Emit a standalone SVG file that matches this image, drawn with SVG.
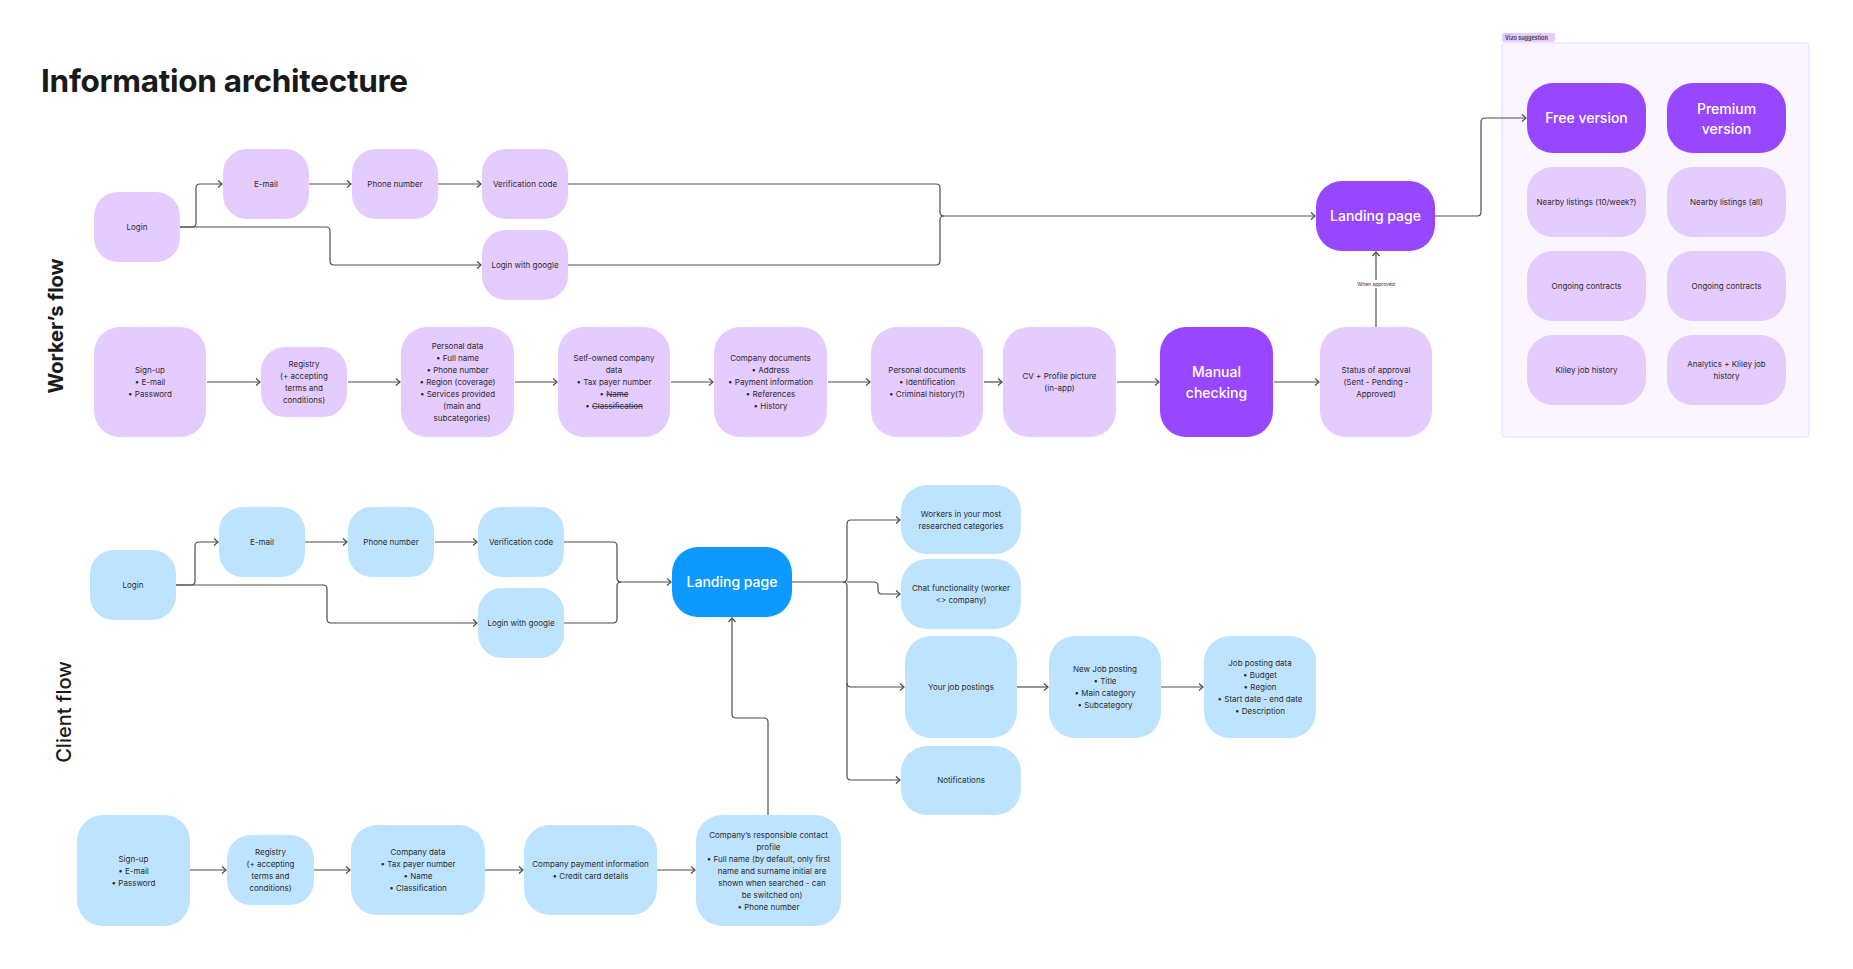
<svg xmlns="http://www.w3.org/2000/svg" width="1853" height="969" viewBox="0 0 1853 969">
<defs>
<marker id="arr" markerUnits="userSpaceOnUse" markerWidth="10" markerHeight="10" viewBox="0 0 10 10" refX="7" refY="5" orient="auto">
<path d="M3,1.5 L7,5 L3,8.5" fill="none" stroke="#4d4d4d" stroke-width="1.2"/>
</marker>
<style>
.wp{fill:#E4CCFF}
.wd{fill:#9747FF}
.cb{fill:#BDE3FF}
.cd{fill:#0D99FF}
text{font-family:Inter,"Liberation Sans",sans-serif}
.t{font-size:8px;fill:#2b2b2b;text-anchor:middle}
.tb{font-size:14px;fill:#ffffff;text-anchor:middle;font-weight:500}
.c{fill:none;stroke:#4d4d4d;stroke-width:1.2}
.a{marker-end:url(#arr)}
.st{text-decoration:line-through}
</style>
</defs>
<rect x="0" y="0" width="1853" height="969" fill="#ffffff"/>

<text x="41" y="92" font-size="31.5" font-weight="700" fill="#1a1a1a" textLength="367">Information architecture</text>
<text transform="translate(63,326) rotate(-90)" font-size="20" font-weight="700" fill="#1a1a1a" text-anchor="middle">Worker’s flow</text>
<text transform="translate(71,712) rotate(-90)" font-size="20" font-weight="500" fill="#1a1a1a" text-anchor="middle">Client flow</text>

<g id="vizo-panel">
<rect x="1502" y="43" width="307" height="394" rx="3" fill="#FAF5FF" stroke="#EBDAFD" stroke-width="1"/>
<rect x="1502" y="33" width="53" height="9" rx="2" fill="#E4CCFF"/>
<text x="1505" y="40" font-size="5.5" font-weight="600" fill="#333">Vizo suggestion</text>
</g>

<g id="connectors">
<path class="c a" d="M180,227 H192 Q196,227 196,223 V188 Q196,184 200,184 H222"/>
<path class="c a" d="M180,227 H326 Q330,227 330,231 V261 Q330,265 334,265 H481"/>
<path class="c a" d="M309,184 H351"/>
<path class="c a" d="M438,184 H481"/>
<path class="c a" d="M568,184 H936 Q940,184 940,188 V212 Q940,216 944,216 H1315"/>
<path class="c" d="M568,265 H936 Q940,265 940,261 V220 Q940,216 944,216"/>
<path class="c a" d="M1435,216 H1477 Q1481,216 1481,212 V122 Q1481,118 1485,118 H1526"/>
<path class="c a" d="M1376,327 V252"/>
<path class="c a" d="M207,382 H260"/>
<path class="c a" d="M348,382 H400"/>
<path class="c a" d="M515,382 H557"/>
<path class="c a" d="M671,382 H713"/>
<path class="c a" d="M828,382 H870"/>
<path class="c a" d="M984,382 H1002"/>
<path class="c a" d="M1117,382 H1159"/>
<path class="c a" d="M1274,382 H1319"/>
<rect x="1358" y="280" width="36" height="8" fill="#ffffff"/>
<text x="1376" y="286" font-size="5" fill="#333" text-anchor="middle">When approved</text>

<path class="c a" d="M176,585 H191 Q195,585 195,581 V546 Q195,542 199,542 H218"/>
<path class="c a" d="M176,585 H323 Q327,585 327,589 V619 Q327,623 331,623 H477"/>
<path class="c a" d="M305,542 H347"/>
<path class="c a" d="M435,542 H477"/>
<path class="c a" d="M564,542 H613 Q617,542 617,546 V578 Q617,582 621,582 H671"/>
<path class="c" d="M564,623 H613 Q617,623 617,619 V586 Q617,582 621,582"/>
<path class="c a" d="M792,582 H843 Q847,582 847,578 V524 Q847,520 851,520 H900"/>
<path class="c a" d="M847,582 H874 Q878,582 878,586 V590 Q878,594 882,594 H900"/>
<path class="c a" d="M843,582 Q847,582 847,586 V683 Q847,687 851,687 H904"/>
<path class="c a" d="M847,683 V776 Q847,780 851,780 H900"/>
<path class="c a" d="M1017,687 H1048"/>
<path class="c a" d="M1161,687 H1203"/>
<path class="c a" d="M190,870 H226"/>
<path class="c a" d="M314,870 H350"/>
<path class="c a" d="M485,870 H523"/>
<path class="c a" d="M657,870 H695"/>
<path class="c a" d="M768,815 V722 Q768,718 764,718 H736 Q732,718 732,714 V618"/>
</g>

<!-- Worker flow row 1 -->
<g id="w-login"><rect class="wp" x="94" y="192" width="86" height="70" rx="24"/><text class="t" x="137" y="230">Login</text></g>
<g id="w-email"><rect class="wp" x="223" y="149" width="86" height="70" rx="24"/><text class="t" x="266" y="187">E-mail</text></g>
<g id="w-phone"><rect class="wp" x="352" y="149" width="86" height="70" rx="24"/><text class="t" x="395" y="187">Phone number</text></g>
<g id="w-verif"><rect class="wp" x="482" y="149" width="86" height="70" rx="24"/><text class="t" x="525" y="187">Verification code</text></g>
<g id="w-google"><rect class="wp" x="482" y="230" width="86" height="70" rx="24"/><text class="t" x="525" y="268">Login with google</text></g>
<g id="w-landing"><rect class="wd" x="1316" y="181" width="119" height="70" rx="26"/><text class="tb" x="1375.5" y="221">Landing page</text></g>

<!-- Worker flow row 2 -->
<g id="w-signup"><rect class="wp" x="94" y="327" width="112" height="110" rx="26"/>
<text class="t"><tspan x="150" y="373">Sign-up</tspan><tspan x="150" y="385">• E-mail</tspan><tspan x="150" y="397">• Password</tspan></text></g>
<g id="w-registry"><rect class="wp" x="261" y="347" width="86" height="70" rx="24"/>
<text class="t"><tspan x="304" y="367">Registry</tspan><tspan x="304" y="379">(+ accepting</tspan><tspan x="304" y="391">terms and</tspan><tspan x="304" y="403">conditions)</tspan></text></g>
<g id="w-personal"><rect class="wp" x="401" y="327" width="113" height="110" rx="26"/>
<text class="t"><tspan x="457.5" y="349">Personal data</tspan><tspan x="457.5" y="361">• Full name</tspan><tspan x="457.5" y="373">• Phone number</tspan><tspan x="457.5" y="385">• Region (coverage)</tspan><tspan x="457.5" y="397">• Services provided</tspan><tspan x="462" y="409">(main and</tspan><tspan x="462" y="421">subcategories)</tspan></text></g>
<g id="w-selfowned"><rect class="wp" x="558" y="327" width="112" height="110" rx="26"/>
<text class="t"><tspan x="614" y="361">Self-owned company</tspan><tspan x="614" y="373">data</tspan><tspan x="614" y="385">• Tax payer number</tspan><tspan x="614" y="397">• <tspan class="st">Name</tspan></tspan><tspan x="614" y="409">• <tspan class="st">Classification</tspan></tspan></text></g>
<g id="w-companydocs"><rect class="wp" x="714" y="327" width="113" height="110" rx="26"/>
<text class="t"><tspan x="770.5" y="361">Company documents</tspan><tspan x="770.5" y="373">• Address</tspan><tspan x="770.5" y="385">• Payment information</tspan><tspan x="770.5" y="397">• References</tspan><tspan x="770.5" y="409">• History</tspan></text></g>
<g id="w-personaldocs"><rect class="wp" x="871" y="327" width="112" height="110" rx="26"/>
<text class="t"><tspan x="927" y="373">Personal documents</tspan><tspan x="927" y="385">• Identification</tspan><tspan x="927" y="397">• Criminal history(?)</tspan></text></g>
<g id="w-cv"><rect class="wp" x="1003" y="327" width="113" height="110" rx="26"/>
<text class="t"><tspan x="1059.5" y="379">CV + Profile picture</tspan><tspan x="1059.5" y="391">(in-app)</tspan></text></g>
<g id="w-manual"><rect class="wd" x="1160" y="327" width="113" height="110" rx="26"/>
<text class="tb"><tspan x="1216.5" y="377">Manual</tspan><tspan x="1216.5" y="397.5">checking</tspan></text></g>
<g id="w-status"><rect class="wp" x="1320" y="327" width="112" height="110" rx="26"/>
<text class="t"><tspan x="1376" y="373">Status of approval</tspan><tspan x="1376" y="385">(Sent - Pending -</tspan><tspan x="1376" y="397">Approved)</tspan></text></g>

<!-- Vizo suggestion nodes -->
<g id="v-free"><rect class="wd" x="1527" y="83" width="119" height="70" rx="26"/><text class="tb" x="1586.5" y="123">Free version</text></g>
<g id="v-premium"><rect class="wd" x="1667" y="83" width="119" height="70" rx="26"/>
<text class="tb"><tspan x="1726.5" y="113.5">Premium</tspan><tspan x="1726.5" y="133.5">version</tspan></text></g>
<g id="v-nearby-free"><rect class="wp" x="1527" y="167" width="119" height="70" rx="26"/><text class="t" x="1586.5" y="205">Nearby listings (10/week?)</text></g>
<g id="v-nearby-all"><rect class="wp" x="1667" y="167" width="119" height="70" rx="26"/><text class="t" x="1726.5" y="205">Nearby listings (all)</text></g>
<g id="v-ongoing-free"><rect class="wp" x="1527" y="251" width="119" height="70" rx="26"/><text class="t" x="1586.5" y="289">Ongoing contracts</text></g>
<g id="v-ongoing-prem"><rect class="wp" x="1667" y="251" width="119" height="70" rx="26"/><text class="t" x="1726.5" y="289">Ongoing contracts</text></g>
<g id="v-history-free"><rect class="wp" x="1527" y="335" width="119" height="70" rx="26"/><text class="t" x="1586.5" y="373">Kliley job history</text></g>
<g id="v-history-prem"><rect class="wp" x="1667" y="335" width="119" height="70" rx="26"/>
<text class="t"><tspan x="1726.5" y="367">Analytics + Kliley job</tspan><tspan x="1726.5" y="379">history</tspan></text></g>

<!-- Client flow -->
<g id="c-login"><rect class="cb" x="90" y="550" width="86" height="70" rx="24"/><text class="t" x="133" y="588">Login</text></g>
<g id="c-email"><rect class="cb" x="219" y="507" width="86" height="70" rx="24"/><text class="t" x="262" y="545">E-mail</text></g>
<g id="c-phone"><rect class="cb" x="348" y="507" width="86" height="70" rx="24"/><text class="t" x="391" y="545">Phone number</text></g>
<g id="c-verif"><rect class="cb" x="478" y="507" width="86" height="70" rx="24"/><text class="t" x="521" y="545">Verification code</text></g>
<g id="c-google"><rect class="cb" x="478" y="588" width="86" height="70" rx="24"/><text class="t" x="521" y="626">Login with google</text></g>
<g id="c-landing"><rect class="cd" x="672" y="547" width="120" height="70" rx="26"/><text class="tb" x="732" y="587">Landing page</text></g>
<g id="c-workers"><rect class="cb" x="901" y="485" width="120" height="69" rx="26"/>
<text class="t"><tspan x="961" y="517">Workers in your most</tspan><tspan x="961" y="529">researched categories</tspan></text></g>
<g id="c-chat"><rect class="cb" x="901" y="559" width="120" height="70" rx="26"/>
<text class="t"><tspan x="961" y="591">Chat functionality (worker</tspan><tspan x="961" y="603">&lt;&gt; company)</tspan></text></g>
<g id="c-jobs"><rect class="cb" x="905" y="636" width="112" height="102" rx="26"/><text class="t" x="961" y="690">Your job postings</text></g>
<g id="c-notif"><rect class="cb" x="901" y="746" width="120" height="69" rx="26"/><text class="t" x="961" y="783">Notifications</text></g>
<g id="c-newjob"><rect class="cb" x="1049" y="636" width="112" height="102" rx="26"/>
<text class="t"><tspan x="1105" y="672">New Job posting</tspan><tspan x="1105" y="684">• Title</tspan><tspan x="1105" y="696">• Main category</tspan><tspan x="1105" y="708">• Subcategory</tspan></text></g>
<g id="c-jobdata"><rect class="cb" x="1204" y="636" width="112" height="102" rx="26"/>
<text class="t"><tspan x="1260" y="666">Job posting data</tspan><tspan x="1260" y="678">• Budget</tspan><tspan x="1260" y="690">• Region</tspan><tspan x="1260" y="702">• Start date - end date</tspan><tspan x="1260" y="714">• Description</tspan></text></g>

<g id="c-signup"><rect class="cb" x="77" y="815" width="113" height="111" rx="26"/>
<text class="t"><tspan x="133.5" y="861.5">Sign-up</tspan><tspan x="133.5" y="873.5">• E-mail</tspan><tspan x="133.5" y="885.5">• Password</tspan></text></g>
<g id="c-registry"><rect class="cb" x="227" y="835" width="87" height="70" rx="24"/>
<text class="t"><tspan x="270.5" y="855">Registry</tspan><tspan x="270.5" y="867">(+ accepting</tspan><tspan x="270.5" y="879">terms and</tspan><tspan x="270.5" y="891">conditions)</tspan></text></g>
<g id="c-companydata"><rect class="cb" x="351" y="825" width="134" height="90" rx="26"/>
<text class="t"><tspan x="418" y="855">Company data</tspan><tspan x="418" y="867">• Tax payer number</tspan><tspan x="418" y="879">• Name</tspan><tspan x="418" y="891">• Classification</tspan></text></g>
<g id="c-payment"><rect class="cb" x="524" y="825" width="133" height="90" rx="26"/>
<text class="t"><tspan x="590.5" y="867">Company payment information</tspan><tspan x="590.5" y="879">• Credit card details</tspan></text></g>
<g id="c-contact"><rect class="cb" x="696" y="815" width="145" height="111" rx="26"/>
<text class="t"><tspan x="768.5" y="837.5">Company’s responsible contact</tspan><tspan x="768.5" y="849.5">profile</tspan><tspan x="768.5" y="861.5">• Full name (by default, only first</tspan><tspan x="772" y="873.5">name and surname initial are</tspan><tspan x="772" y="885.5">shown when searched - can</tspan><tspan x="772" y="897.5">be switched on)</tspan><tspan x="768.5" y="909.5">• Phone number</tspan></text></g>
</svg>
